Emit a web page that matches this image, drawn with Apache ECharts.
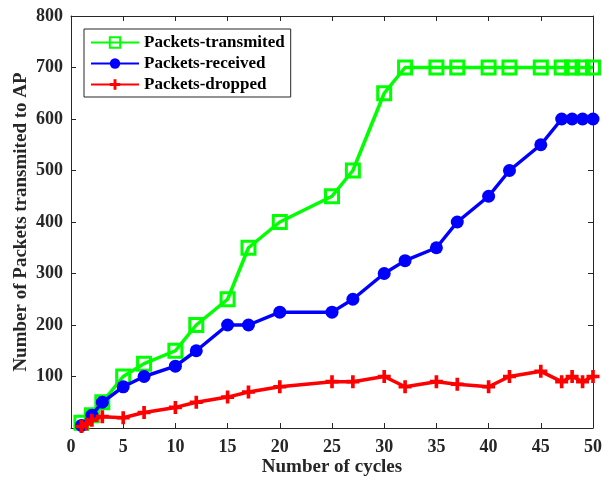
<!DOCTYPE html>
<html><head><meta charset="utf-8">
<script src="https://cdn.jsdelivr.net/npm/echarts@6/dist/echarts.min.js"></script>
<style>html,body{margin:0;padding:0;background:#fff}#c{width:602px;height:478px}</style>
</head><body><div id="c"></div>
<script>
const xTransmitted = [1,2,3,5,7,10,12,15,17,20,25,27,30,32,35,37,40,42,45,47,48,49,50];
const yTransmitted = [10,25,50,100,125,150,200,250,350,400,450,500,650,700,700,700,700,700,700,700,700,700,700];
const xReceived = [1,2,3,5,7,10,12,15,17,20,25,27,30,32,35,37,40,42,45,47,48,49,50];
const yReceived = [5,25,50,80,100,120,150,200,200,225,225,250,300,325,350,400,450,500,550,600,600,600,600];
const xDropped = [1,1.5,2,3,5,7,10,12,15,17,20,25,27,30,32,35,37,40,42,45,47,48,49,50];
const yDropped = [3,8,15,22,20,30,40,50,60,70,80,90,90,100,80,90,85,80,100,110,90,100,90,100];
const xTicks = [0,5,10,15,20,25,30,35,40,45,50];
const yTicks = [100,200,300,400,500,600,700,800];

const F = 'Liberation Serif';
const axisCol = '#262626';
const pair = (xs, ys) => xs.map((x, i) => [x, ys[i]]);
const plusPath = 'path://M3.6,0H6.4V3.6H10V6.4H6.4V10H3.6V6.4H0V3.6H3.6Z';

const chart = echarts.init(document.getElementById('c'));
const baseX = {
  type: 'value', min: 0, max: 50, interval: 5,
  axisLine: { show: true, onZero: false, lineStyle: { color: axisCol, width: 1 } },
  axisTick: { show: true, inside: true, length: 5, lineStyle: { color: axisCol } },
  splitLine: { show: false }
};
const baseY = {
  type: 'value', min: 0, max: 800, interval: 100,
  axisLine: { show: true, onZero: false, lineStyle: { color: axisCol, width: 1 } },
  axisTick: { show: true, inside: true, length: 5, lineStyle: { color: axisCol } },
  splitLine: { show: false }
};
chart.setOption({
  animation: false,
  backgroundColor: '#fff',
  grid: { left: 71, right: 9, top: 16, bottom: 50, containLabel: false, outerBoundsMode: 'none' },
  legend: {
    left: 84, top: 29, orient: 'vertical',
    backgroundColor: '#fff',
    borderColor: axisCol, borderWidth: 1,
    padding: [5, 6, 4, 6],
    itemWidth: 48, itemHeight: 13, itemGap: 4,
    textStyle: { fontFamily: F, fontWeight: 'bold', fontSize: 17, color: '#000' },
    data: ['Packets-transmited', 'Packets-received', 'Packets-dropped']
  },
  xAxis: [
    Object.assign({}, baseX, {
      position: 'bottom',
      name: 'Number of cycles', nameLocation: 'middle', nameGap: 30, nameMoveOverlap: false,
      nameTextStyle: { fontFamily: F, fontWeight: 'bold', fontSize: 19, color: axisCol },
      axisLabel: { fontFamily: F, fontWeight: 'bold', fontSize: 18, color: axisCol, margin: 10,
        formatter: v => xTicks.includes(v) ? String(v) : '' }
    }),
    Object.assign({}, baseX, { position: 'top', axisLabel: { show: false } })
  ],
  yAxis: [
    Object.assign({}, baseY, {
      position: 'left',
      name: 'Number of Packets transmited to AP', nameLocation: 'middle', nameGap: 40, nameMoveOverlap: false,
      nameTextStyle: { fontFamily: F, fontWeight: 'bold', fontSize: 19, color: axisCol },
      axisLabel: { fontFamily: F, fontWeight: 'bold', fontSize: 18, color: axisCol, margin: 8,
        formatter: v => yTicks.includes(v) ? String(v) : '' }
    }),
    Object.assign({}, baseY, { position: 'right', axisLabel: { show: false } })
  ],
  series: [
    {
      name: 'Packets-transmited', type: 'line', data: pair(xTransmitted, yTransmitted),
      symbol: 'rect', symbolSize: 13, showAllSymbol: true,
      lineStyle: { color: '#00ff00', width: 3.5 },
      itemStyle: { color: 'rgba(0,0,0,0)', borderColor: '#00ff00', borderWidth: 3 },
      z: 2
    },
    {
      name: 'Packets-received', type: 'line', data: pair(xReceived, yReceived),
      symbol: 'circle', symbolSize: 13, showAllSymbol: true,
      lineStyle: { color: '#0000ff', width: 3.5 },
      itemStyle: { color: '#0000ff', borderColor: '#0000ff', borderWidth: 0 },
      z: 3
    },
    {
      name: 'Packets-dropped', type: 'line', data: pair(xDropped, yDropped),
      symbol: plusPath, symbolSize: 13, showAllSymbol: true,
      lineStyle: { color: '#ff0000', width: 3.5 },
      itemStyle: { color: '#ff0000', borderWidth: 0 },
      z: 4
    }
  ]
});
</script></body></html>
